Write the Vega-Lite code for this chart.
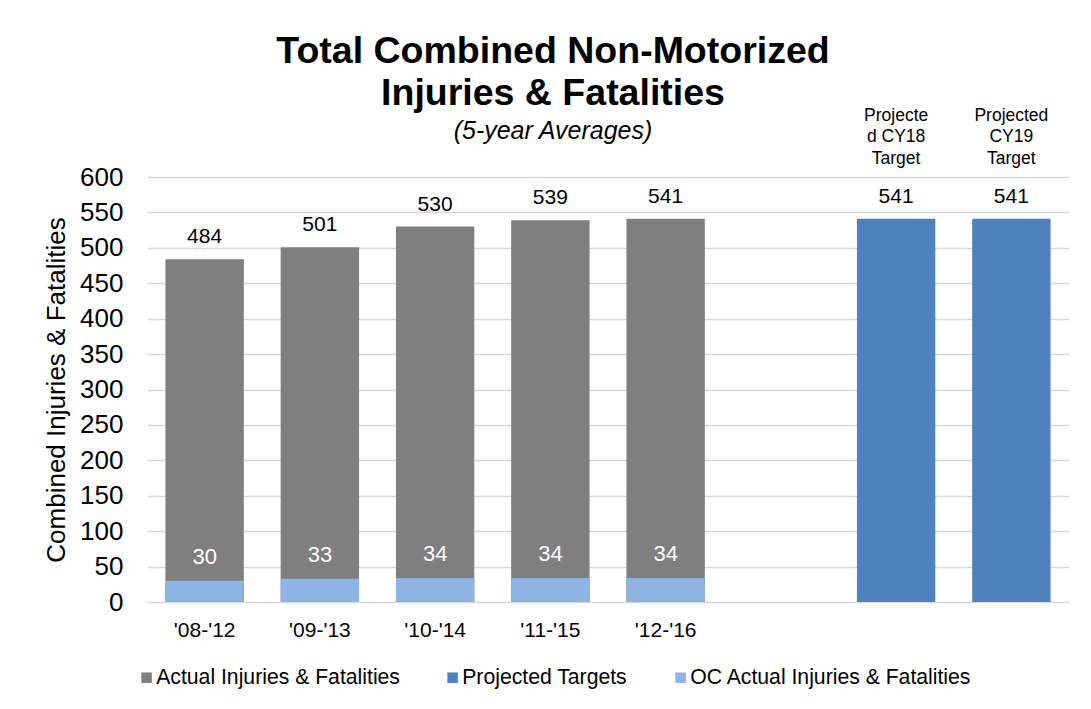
{
  "$schema": "https://vega.github.io/schema/vega-lite/v6.json",
  "width": 922,
  "height": 425,
  "autosize": {"type": "none"},
  "padding": {"left": 147, "top": 177, "right": 22, "bottom": 107},
  "background": "white",
  "title": {
    "text": ["Total Combined Non-Motorized", "Injuries & Fatalities"],
    "subtitle": "(5-year Averages)",
    "anchor": "middle",
    "frame": "group",
    "dx": -55,
    "font": "Liberation Sans",
    "fontSize": 37.5,
    "fontWeight": "bold",
    "lineHeight": 42,
    "color": "#000000",
    "subtitleFont": "Liberation Sans",
    "subtitleFontSize": 25,
    "subtitleFontStyle": "italic",
    "subtitleColor": "#000000",
    "subtitlePadding": 6,
    "offset": -37
  },
  "data": {
    "values": [
      {"cat": "'08-'12", "series": "Actual Injuries & Fatalities", "value": 484},
      {"cat": "'09-'13", "series": "Actual Injuries & Fatalities", "value": 501},
      {"cat": "'10-'14", "series": "Actual Injuries & Fatalities", "value": 530},
      {"cat": "'11-'15", "series": "Actual Injuries & Fatalities", "value": 539},
      {"cat": "'12-'16", "series": "Actual Injuries & Fatalities", "value": 541},
      {"cat": "CY18", "series": "Projected Targets", "value": 541, "header": "Projecte\nd CY18\nTarget"},
      {"cat": "CY19", "series": "Projected Targets", "value": 541, "header": "Projected\nCY19\nTarget"},
      {"cat": "'08-'12", "series": "OC Actual Injuries & Fatalities", "value": 30},
      {"cat": "'09-'13", "series": "OC Actual Injuries & Fatalities", "value": 33},
      {"cat": "'10-'14", "series": "OC Actual Injuries & Fatalities", "value": 34},
      {"cat": "'11-'15", "series": "OC Actual Injuries & Fatalities", "value": 34},
      {"cat": "'12-'16", "series": "OC Actual Injuries & Fatalities", "value": 34}
    ]
  },
  "encoding": {
    "x": {
      "field": "cat",
      "type": "nominal",
      "scale": {
        "domain": ["'08-'12", "'09-'13", "'10-'14", "'11-'15", "'12-'16", "gap", "CY18", "CY19"],
        "paddingInner": 0.32,
        "paddingOuter": 0.16
      },
      "axis": {
        "title": null,
        "labelAngle": 0,
        "domain": false,
        "ticks": false,
        "labelPadding": 17,
        "labelFontSize": 21,
        "labelColor": "#000000",
        "labelExpr": "datum.value === 'gap' || datum.value === 'CY18' || datum.value === 'CY19' ? '' : datum.label"
      }
    },
    "y": {
      "field": "value",
      "type": "quantitative",
      "scale": {"domain": [0, 600], "nice": false},
      "axis": {
        "title": "Combined Injuries & Fatalities",
        "titleFontSize": 26,
        "titleFontWeight": "normal",
        "titleColor": "#000000",
        "titlePadding": 10,
        "values": [0, 50, 100, 150, 200, 250, 300, 350, 400, 450, 500, 550, 600],
        "labelFontSize": 26,
        "labelColor": "#000000",
        "labelPadding": 24,
        "domain": false,
        "ticks": false,
        "grid": true,
        "gridColor": "#D9D9D9",
        "gridWidth": 1.5
      }
    }
  },
  "layer": [
    {
      "transform": [{"filter": "datum.series !== 'OC Actual Injuries & Fatalities'"}],
      "mark": {"type": "bar"},
      "encoding": {
        "color": {
          "field": "series",
          "type": "nominal",
          "scale": {
            "domain": ["Actual Injuries & Fatalities", "Projected Targets", "OC Actual Injuries & Fatalities"],
            "range": ["#7F7F7F", "#4F81BD", "#8EB4E3"]
          },
          "legend": {
            "orient": "none",
            "legendX": -11,
            "legendY": 490,
            "direction": "horizontal",
            "title": null,
            "symbolType": "square",
            "symbolSize": 110,
            "symbolStrokeWidth": 0,
            "labelFontSize": 21.2,
            "labelLimit": 0,
            "labelColor": "#000000",
            "labelOffset": -1,
            "columnPadding": 42
          }
        }
      }
    },
    {
      "transform": [{"filter": "datum.series === 'OC Actual Injuries & Fatalities'"}],
      "mark": {"type": "bar"},
      "encoding": {
        "color": {"field": "series", "type": "nominal"}
      }
    },
    {
      "transform": [{"filter": "datum.series !== 'OC Actual Injuries & Fatalities'"}],
      "mark": {"type": "text", "baseline": "alphabetic", "dy": -16, "fontSize": 21, "color": "#000000"},
      "encoding": {"text": {"field": "value", "type": "quantitative"}}
    },
    {
      "transform": [{"filter": "datum.series === 'OC Actual Injuries & Fatalities'"}],
      "mark": {"type": "text", "baseline": "alphabetic", "dy": -17, "fontSize": 22, "color": "#FFFFFF"},
      "encoding": {"text": {"field": "value", "type": "quantitative"}}
    },
    {
      "transform": [{"filter": "isValid(datum.header)"}],
      "mark": {"type": "text", "baseline": "bottom", "dy": -94, "fontSize": 17.5, "lineHeight": 21.5, "lineBreak": "\n", "color": "#000000"},
      "encoding": {"text": {"field": "header", "type": "nominal"}}
    }
  ],
  "config": {
    "font": "Liberation Sans",
    "view": {"stroke": null}
  }
}
